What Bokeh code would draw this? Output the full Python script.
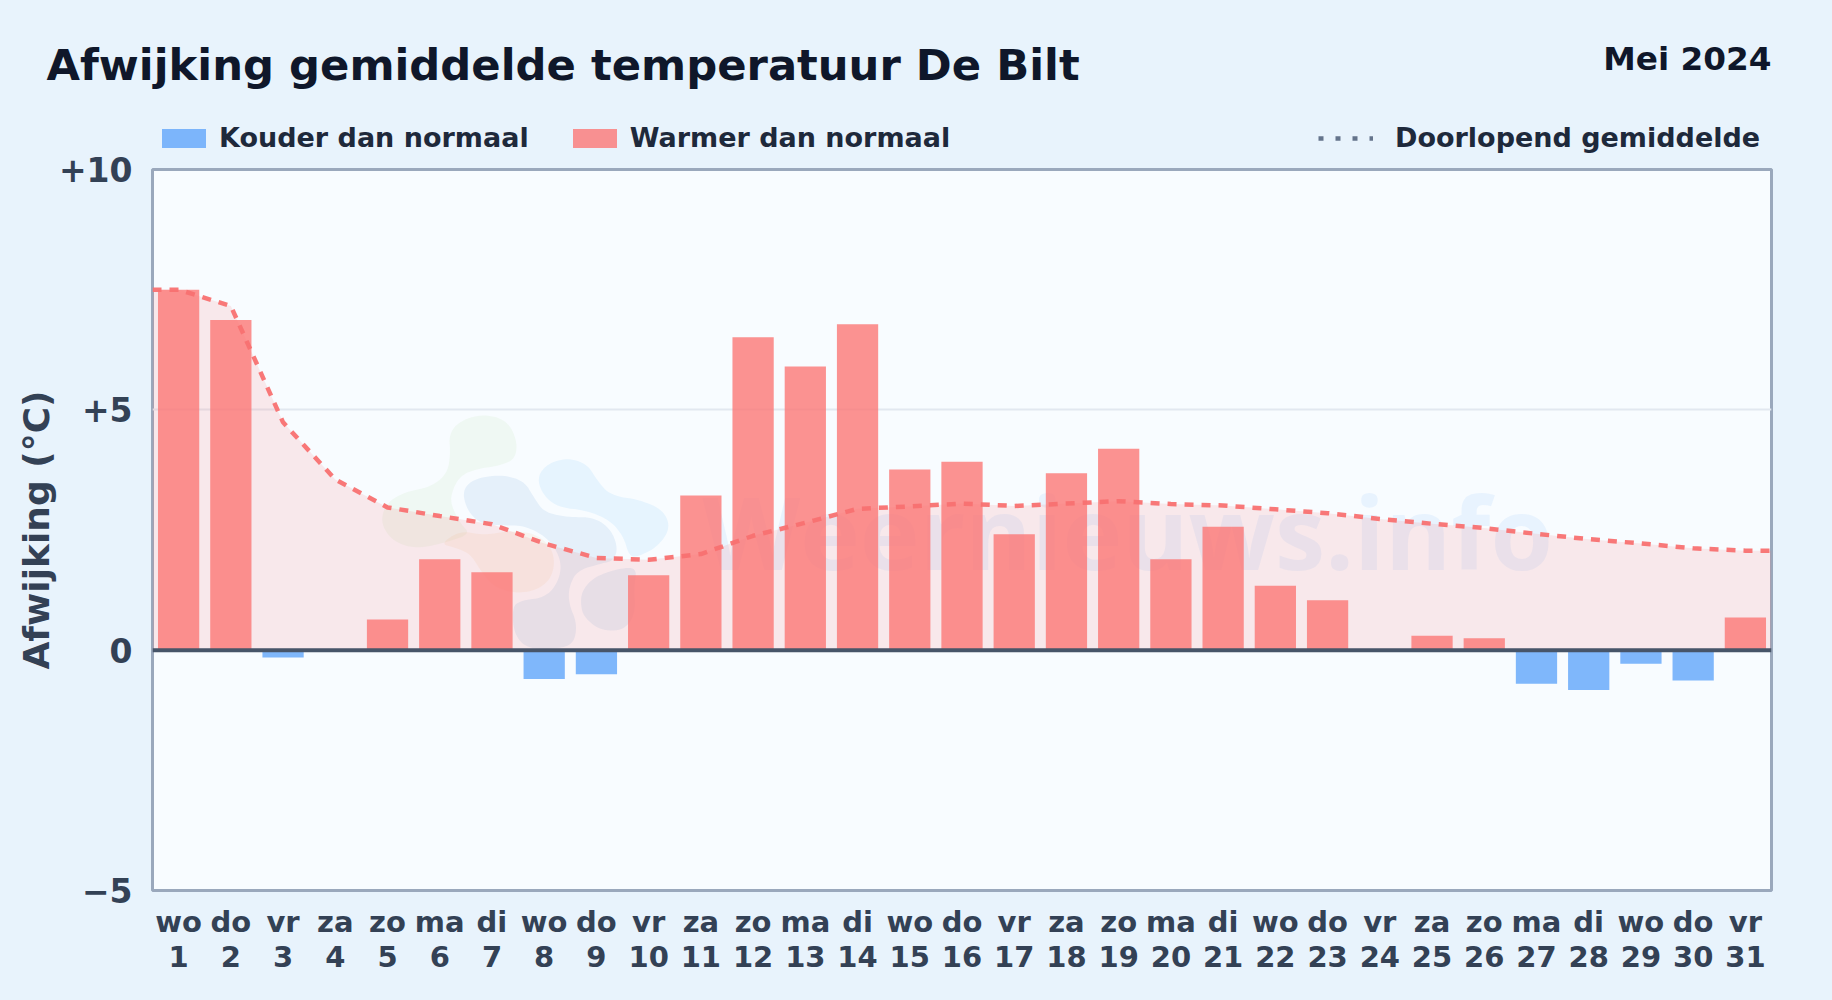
from bokeh.plotting import figure
from bokeh.layouts import column
from bokeh.embed import file_html
from bokeh.resources import INLINE
from bokeh.models import FixedTicker, Span, Label, Legend, LegendItem, ColumnDataSource, Range1d

days = list(range(1, 32))
weekdays = ["wo","do","vr","za","zo","ma","di","wo","do","vr","za","zo","ma","di","wo","do",
            "vr","za","zo","ma","di","wo","do","vr","za","zo","ma","di","wo","do","vr"]
deviation = [7.5,6.87,-0.15,0.0,0.64,1.89,1.62,-0.6,-0.5,1.56,3.22,6.51,5.9,6.78,3.76,3.92,
             2.41,3.68,4.19,1.89,2.57,1.34,1.04,0.0,0.3,0.25,-0.7,-0.83,-0.28,-0.63,0.68]
running_mean = [7.5,7.16,4.74,3.55,2.97,2.79,2.62,2.22,1.92,1.88,2.0,2.38,2.65,2.94,2.99,3.05,
                3.0,3.05,3.1,3.04,3.01,2.93,2.85,2.73,2.63,2.54,2.42,2.31,2.22,2.12,2.07]
y_ticks = {10: "+10", 5: "+5", 0: "0", -5: "\u22125"}

BG = "#e8f3fc"
W, H = 1816, 984
HEAD = 166
OVER = 30   # the main canvas reaches this far over the header, so that "+10" fits
FL, FT, FR, FB = 152, 169, 1771, 890   # frame edges in the picture

p = figure(width=W, height=H - HEAD + OVER, output_backend="svg", toolbar_location=None,
           x_range=Range1d(0.5, 31.5), y_range=Range1d(-5, 10), frame_align=False,
           min_border_left=FL, min_border_top=FT - HEAD + OVER, min_border_right=W - FR, min_border_bottom=H - FB,
           background_fill_color="#f8fcff", border_fill_alpha=0, margin=(-OVER, 0, 0, 0))
p.outline_line_color = "#9aa8bc"
p.outline_line_width = 3

p.xgrid.visible = False
p.ygrid.ticker = FixedTicker(ticks=[5])
p.ygrid.grid_line_color = "#e2e8f0"
p.ygrid.grid_line_width = 2

for ax in (p.xaxis[0], p.yaxis[0]):
    ax.axis_line_color = None
    ax.major_tick_line_color = None
    ax.minor_tick_line_color = None
    ax.major_label_text_color = "#334155"
    ax.major_label_text_font = "DejaVu Sans"
    ax.major_label_text_font_style = "bold"

p.xaxis.ticker = FixedTicker(ticks=days)
p.xaxis.major_label_overrides = {d: f"{w}\n{d}" for d, w in zip(days, weekdays)}
p.xaxis.major_label_text_font_size = "29px"
p.xaxis.major_label_text_line_height = 1.05
p.xaxis.major_label_standoff = 8
p.yaxis.ticker = FixedTicker(ticks=list(y_ticks))
p.yaxis.major_label_overrides = y_ticks
p.yaxis.major_label_text_font_size = "33px"
p.yaxis.major_label_standoff = 14
p.yaxis.axis_label = "Afwijking (°C)"
p.yaxis.axis_label_text_font = "DejaVu Sans"
p.yaxis.axis_label_text_font_style = "bold"
p.yaxis.axis_label_text_font_size = "36px"
p.yaxis.axis_label_text_color = "#334155"
p.yaxis.axis_label_standoff = -1

# faint logo / watermark below the chart
def fx(px):
    return 0.5 + (px - FL) / ((FR - FL) / 31)
def fy(py):
    return (FB - (FB - FT) / 3 - py) / ((FB - FT) / 15)
def sx(px):
    return px - FL
def sy(py):
    return FB - py
def rounded(points, passes=3):
    for _ in range(passes):
        out = []
        for i, (a, b) in enumerate(points):
            c, d = points[(i + 1) % len(points)]
            out += [(0.75 * a + 0.25 * c, 0.75 * b + 0.25 * d), (0.25 * a + 0.75 * c, 0.25 * b + 0.75 * d)]
        points = out
    return [fx(360 + a / 3) for a, _ in points], [fy(400 + b / 3) for _, b in points]

blobs = [
    ([(265,100),(300,60),(370,40),(440,60),(470,120),(465,175),(420,195),(350,205),(300,225),(275,270),(270,310),
      (300,370),(330,400),(260,425),(170,445),(100,425),(60,370),(75,310),(130,275),(210,260),(260,220),(270,160)], "#9fd67a", 0.09),
    ([(240,430),(300,390),(370,405),(450,390),(530,400),(580,450),(580,520),(540,565),(470,580),(400,560),(360,510),(330,460),(280,440)], "#f6b26b", 0.11),
    ([(305,270),(340,235),(420,222),(490,240),(520,290),(550,335),(620,350),(700,350),(750,385),(772,440),(760,480),(720,490),
      (650,510),(625,560),(625,610),(650,670),(640,730),(590,745),(500,745),(460,700),(455,620),(480,600),(560,590),(600,530),
      (600,470),(560,410),(490,375),(430,375),(360,370),(320,330)], "#2f78c4", 0.09),
    ([(530,230),(560,190),(620,172),(680,190),(710,240),(750,285),(840,298),(910,330),(930,385),(890,440),(830,470),(805,465),
      (790,410),(750,360),(680,330),(590,320),(545,280)], "#5fb8f5", 0.11),
    ([(660,610),(665,570),(700,530),(770,505),(830,500),(820,560),(825,640),(790,690),(720,690),(670,650)], "#2f78c4", 0.09),
]
for pts, col, a in blobs:
    xs, ys = rounded(pts)
    p.patch(xs, ys, fill_color=col, fill_alpha=a, line_color=None)

p.add_layout(Label(x=sx(702), y=sy(530), x_units="screen", y_units="screen", level="underlay",
                   text="Weernieuws.info", text_font="Open Sans", text_font_style="bold", text_font_size="101px",
                   text_color="#60a5fa", text_alpha=0.10, text_baseline="alphabetic"))

# area + bars
line_x = [0.5] + days + [31.5]
line_y = [running_mean[0]] + running_mean + [running_mean[-1]]
p.varea(x=line_x, y1=[0] * len(line_x), y2=line_y, fill_color="#f87171", fill_alpha=0.14)

warm = ColumnDataSource(dict(x=[d for d, v in zip(days, deviation) if v >= 0],
                             top=[v for v in deviation if v >= 0]))
cold = ColumnDataSource(dict(x=[d for d, v in zip(days, deviation) if v < 0],
                             top=[v for v in deviation if v < 0]))
p.vbar(x="x", top="top", bottom=0, width=0.79, source=warm, fill_color="#fb7776", fill_alpha=0.8, line_color=None)
p.vbar(x="x", top="top", bottom=0, width=0.79, source=cold, fill_color="#60a5fa", fill_alpha=0.8, line_color=None)

p.add_layout(Span(location=0, dimension="width", line_color="#475569", line_width=4))
p.line(line_x, line_y, line_color="#f87171", line_width=4.5, line_dash="9 8", line_alpha=0.95)

# header strip: title, month and legends
head = figure(width=W, height=HEAD, output_backend="svg", toolbar_location=None, frame_align=False,
              x_range=Range1d(0, 1), y_range=Range1d(0, 1), x_axis_location=None, y_axis_location=None,
              min_border=0, background_fill_color=BG, border_fill_color=BG, outline_line_color=None)
head.grid.visible = False

cold_key = head.vbar(x=[5], top=[5], bottom=4, width=1, fill_color="#60a5fa", fill_alpha=0.8, line_color=None)
warm_key = head.vbar(x=[5], top=[5], bottom=4, width=1, fill_color="#fb7776", fill_alpha=0.8, line_color=None)
mean_key = head.line([5, 6], [5, 5], line_color="#64748b", line_width=4.5, line_dash="5 12")

common = dict(orientation="horizontal", background_fill_alpha=0, border_line_alpha=0, padding=0, margin=0,
              glyph_height=24, label_height=24,
              label_text_font="DejaVu Sans", label_text_font_style="bold", label_text_font_size="27px",
              label_text_color="#1e293b", label_text_baseline="middle")
head.add_layout(Legend(items=[LegendItem(label="Kouder dan normaal", renderers=[cold_key]),
                              LegendItem(label="Warmer dan normaal", renderers=[warm_key])],
                       location=(156, 13), spacing=38, glyph_width=55, label_standoff=8, **common))
head.add_layout(Legend(items=[LegendItem(label="Doorlopend gemiddelde", renderers=[mean_key])],
                       location=(1318, 13), glyph_width=55, label_standoff=22, **common))

head.add_layout(Label(x=46, y=HEAD - 64, x_units="screen", y_units="screen",
                      text="Afwijking gemiddelde temperatuur De Bilt", text_font="DejaVu Sans",
                      text_font_style="bold", text_font_size="43.3px", text_color="#0f172a", text_baseline="alphabetic"))
head.add_layout(Label(x=1771, y=HEAD - 58, x_units="screen", y_units="screen", text_align="right",
                      text="Mei 2024", text_font="DejaVu Sans", text_font_style="bold",
                      text_font_size="32.7px", text_color="#0f172a", text_baseline="alphabetic"))

page = column(head, p, spacing=0)
html = file_html(page, INLINE)
html = html.replace("<head>", f"<head><style>html,body{{background:{BG};}}</style>", 1)
open("out.html", "w").write(html)
